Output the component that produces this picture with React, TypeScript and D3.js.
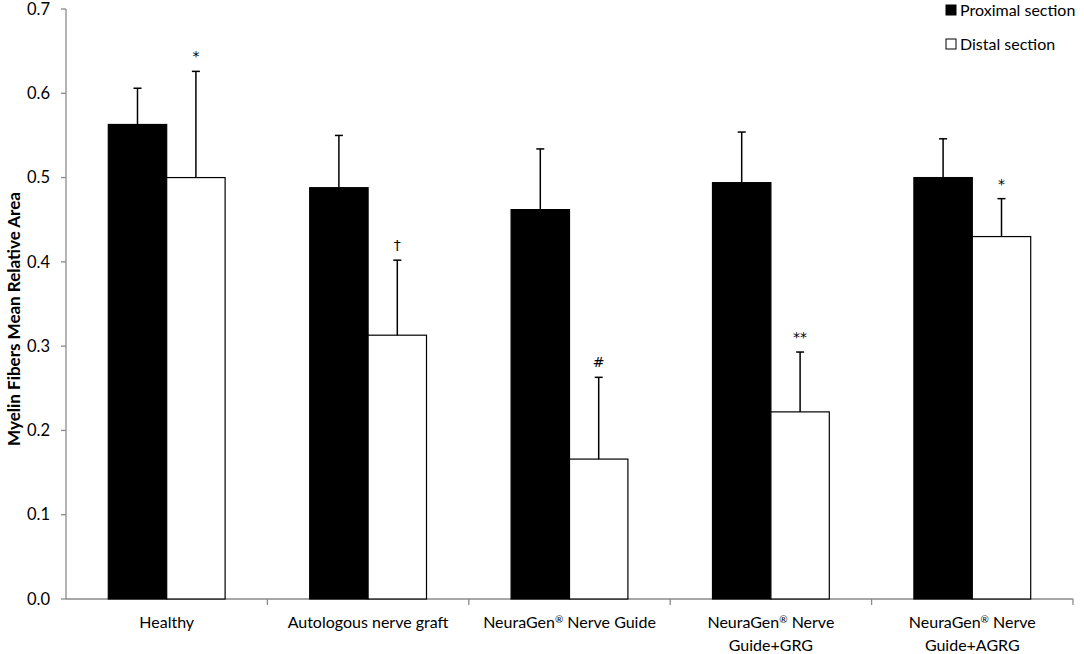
import React, { useRef, useEffect } from 'react';
import * as d3 from 'd3';

// values
const groups = [
  ['Healthy'],
  ['Autologous nerve graft'],
  ['NeuraGen® Nerve Guide'],
  ['NeuraGen® Nerve', 'Guide+GRG'],
  ['NeuraGen® Nerve', 'Guide+AGRG']
];
const proximal = [0.563, 0.488, 0.462, 0.494, 0.5];
const proximalErr = [0.043, 0.062, 0.072, 0.06, 0.046];
const distal = [0.5, 0.313, 0.166, 0.222, 0.43];
const distalErr = [0.126, 0.089, 0.097, 0.071, 0.045];
const distalMarks = ['*', '†', '#', '**', '*'];
const yTicks = [0, 0.1, 0.2, 0.3, 0.4, 0.5, 0.6, 0.7];
const seriesNames = ['Proximal section', 'Distal section'];

const FONT = 'Lato, "Open Sans", sans-serif';

const App: React.FC = () => {
  const ref = useRef<SVGSVGElement | null>(null);

  useEffect(() => {
    document.body.style.margin = '0';
    const svg = d3.select(ref.current);
    svg.selectAll('*').remove();
    const width = 1084;
    const height = 654;
    const left = 66;
    const right = 1073;
    const top = 9;
    const bottom = 599;
    const axisColor = '#8a8a8a';

    svg.attr('width', width).attr('height', height).style('background', '#fff');

    const idx = groups.map((_, i) => String(i));
    const x = d3.scaleBand().domain(idx).range([left, right]).paddingInner(0.42).paddingOuter(0.21);
    const xStep = d3.scaleBand().domain(idx).range([left, right]);
    const sub = d3.scaleBand().domain(['p', 'd']).range([0, x.bandwidth()]);
    const y = d3.scaleLinear().domain([0, 0.7]).range([bottom, top]);

    // y axis
    svg.append('line')
      .attr('x1', left).attr('x2', left).attr('y1', top).attr('y2', bottom)
      .attr('stroke', axisColor).attr('stroke-width', 1.3);
    const yt = svg.append('g');
    yTicks.forEach((t) => {
      yt.append('line')
        .attr('x1', left - 5).attr('x2', left).attr('y1', y(t)).attr('y2', y(t))
        .attr('stroke', axisColor).attr('stroke-width', 1.3);
      yt.append('text')
        .attr('x', left - 16).attr('y', y(t)).attr('dy', '0.35em')
        .attr('text-anchor', 'end').attr('font-family', FONT).attr('font-size', 16.5)
        .text(d3.format('.1f')(t));
    });

    // x axis
    svg.append('line')
      .attr('x1', left).attr('x2', right).attr('y1', bottom).attr('y2', bottom)
      .attr('stroke', axisColor).attr('stroke-width', 1.3);
    idx.forEach((k) => {
      const bx = (xStep(k) as number) + xStep.step();
      svg.append('line')
        .attr('x1', bx).attr('x2', bx).attr('y1', bottom).attr('y2', bottom + 6)
        .attr('stroke', axisColor).attr('stroke-width', 1.3);
    });

    // bars + error bars
    const drawBar = (k: string, key: string, v: number, e: number, fill: string) => {
      const bx = (x(k) as number) + (sub(key) as number);
      const bw = sub.bandwidth();
      svg.append('rect')
        .attr('x', bx).attr('y', y(v)).attr('width', bw).attr('height', y(0) - y(v))
        .attr('fill', fill).attr('stroke', '#000').attr('stroke-width', 1.2);
      const cx = bx + bw / 2;
      svg.append('line')
        .attr('x1', cx).attr('x2', cx).attr('y1', y(v)).attr('y2', y(v + e))
        .attr('stroke', '#000').attr('stroke-width', 1.5);
      svg.append('line')
        .attr('x1', cx - 4).attr('x2', cx + 4).attr('y1', y(v + e)).attr('y2', y(v + e))
        .attr('stroke', '#000').attr('stroke-width', 1.5);
      return cx;
    };

    idx.forEach((k, i) => {
      drawBar(k, 'p', proximal[i], proximalErr[i], '#000');
      const cx = drawBar(k, 'd', distal[i], distalErr[i], '#fff');
      svg.append('text')
        .attr('x', cx).attr('y', y(distal[i] + distalErr[i]) - 15).attr('dy', '0.35em')
        .attr('text-anchor', 'middle').attr('font-family', '"DejaVu Sans", sans-serif')
        .attr('font-size', 14).attr('fill', '#000')
        .text(distalMarks[i]);
    });

    // category labels, with a small raised ®
    idx.forEach((k, i) => {
      const cx = (x(k) as number) + x.bandwidth() / 2;
      groups[i].forEach((line, j) => {
        const t = svg.append('text')
          .attr('x', cx).attr('y', 622 + j * 23).attr('dy', '0.35em')
          .attr('text-anchor', 'middle').attr('font-family', FONT).attr('font-size', 16)
          .attr('fill', '#000');
        const parts = line.split('®');
        parts.forEach((p, pi) => {
          if (pi > 0) {
            t.append('tspan').attr('font-size', 10).attr('dy', '-0.5em').text('®');
            t.append('tspan').attr('dy', '0.31em').text(p);
          } else {
            t.append('tspan').text(p);
          }
        });
      });
    });

    // y title, sized to span the same length as in the figure (~294px)
    const title = svg.append('text')
      .attr('transform', 'translate(14,319) rotate(-90)')
      .attr('dy', '0.35em').attr('text-anchor', 'middle')
      .attr('font-family', FONT).attr('font-size', 15).attr('font-weight', 'bold')
      .text('Myelin Fibers Mean Relative Area');
    const tn = title.node() as SVGTextElement;
    const len = tn.getComputedTextLength();
    if (len > 0) title.attr('font-size', Math.min(17, (15 * 294) / len));

    // legend
    const fills = ['#000', '#fff'];
    seriesNames.forEach((name, i) => {
      const ly = 10 + i * 34;
      svg.append('rect')
        .attr('x', 946).attr('y', ly - 5).attr('width', 10).attr('height', 10)
        .attr('fill', fills[i]).attr('stroke', '#000').attr('stroke-width', 1);
      svg.append('text')
        .attr('x', 960).attr('y', ly).attr('dy', '0.35em')
        .attr('font-family', FONT).attr('font-size', 16)
        .text(name);
    });
  }, []);

  return <svg ref={ref} style={{ display: 'block' }} />;
};

export default App;
